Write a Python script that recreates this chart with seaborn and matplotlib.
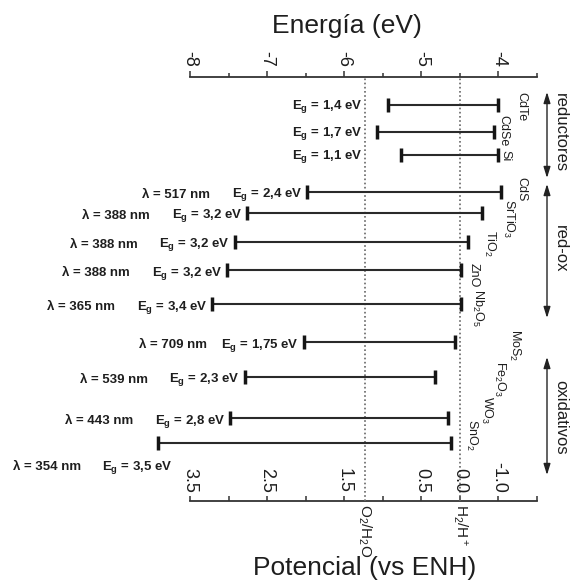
import numpy as np
import pandas as pd
import matplotlib
matplotlib.use("Agg")
import matplotlib.pyplot as plt
import seaborn as sns

# ---------------- data ----------------
materials = ['CdTe', 'CdSe', 'Si', 'CdS', 'SrTiO$_3$', 'TiO$_2$', 'ZnO',
             'Nb$_2$O$_5$', 'MoS$_2$', 'Fe$_2$O$_3$', 'WO$_3$', 'SnO$_2$']
band_valence = [-5.43, -5.57, -5.27, -6.48, -7.26, -7.42, -7.52, -7.71,
                -6.52, -7.29, -7.48, -8.42]          # eV
band_conduction = [-4.00, -4.06, -4.01, -3.97, -4.21, -4.39, -4.49, -4.49,
                   -4.56, -4.82, -4.65, -4.62]       # eV
gap_labels = ['1,4', '1,7', '1,1', '2,4', '3,2', '3,2', '3,2', '3,4',
              '1,75', '2,3', '2,8', '3,5']
wavelengths = [None, None, None, 517, 388, 388, 388, 365, 709, 539, 443, 354]
groups = ['reductores', 'red-ox', 'oxidativos']
energy_ticks = [-8, -7, -6, -5, -4]
energy_tick_labels = ['-8', '-7', '-6', '-5', '-4']
energy_minor_ticks = [-7.5, -6.5, -5.5, -4.5, -3.5]
potential_tick_pos = [-8, -7, -6, -5, -4.5, -4]
potential_tick_labels = ['3.5', '2.5', '1.5', '0.5', '0.0', '-1.0']
redox_levels = [-5.73, -4.5]
redox_labels = ['O$_2$/H$_2$O', 'H$_2$/H$^+$']

# ---------------- layout (pixels) ----------------
W, H = 570, 583
row_y = [105, 132, 155, 192, 213, 242, 270, 304, 342, 377, 418, 443]
mat_label_xy = [(521, 92), (503, 115), (505, 150), (521, 177), (509, 199),
                (490, 230), (474, 263), (478, 289), (515, 329), (500, 361),
                (487, 396), (472, 419)]
group_label_top = [93, 225, 380]
group_arrows = [(92, 178), (184, 318), (357, 475)]

sns.set_theme(style="white")
plt.rcParams['font.family'] = ['Liberation Sans', 'DejaVu Sans']
plt.rcParams['mathtext.fontset'] = 'custom'
plt.rcParams['mathtext.rm'] = 'Liberation Sans'
plt.rcParams['mathtext.it'] = 'Liberation Sans:italic'
plt.rcParams['mathtext.bf'] = 'Liberation Sans:bold'

TXT = '#1e1e1e'
LINE = '#2a2a2a'

fig = plt.figure(figsize=(W / 100, H / 100), dpi=100)
ov = fig.add_axes([0, 0, 1, 1])
ov.set_xlim(0, W)
ov.set_ylim(H, 0)
ov.axis('off')

ax = fig.add_axes([190 / W, 1 - 501 / H, 347 / W, 424 / H])
ax.patch.set_alpha(0)

df = pd.DataFrame({'material': materials, 'VB': band_valence,
                   'CB': band_conduction, 'y': row_y})
long = df.melt(id_vars=['material', 'y'], value_vars=['VB', 'CB'],
               var_name='edge', value_name='E')

sns.lineplot(data=long, x='E', y='y', units='material', estimator=None,
             sort=False, color=LINE, lw=1.5, ax=ax, legend=False, clip_on=False)
sns.scatterplot(data=long, x='E', y='y', marker='|', s=100, linewidth=2.5,
                color='#151515', ax=ax, legend=False, clip_on=False, zorder=3)

ax.set_xlim(-8, -3.5)
ax.set_ylim(501, 77)
ax.set_xlabel('')
ax.set_ylabel('')
ax.set_yticks([])

for s in ['left', 'right', 'bottom']:
    ax.spines[s].set_visible(False)
ax.spines['top'].set_color('#333333')
ax.spines['top'].set_linewidth(1.3)

ax.xaxis.tick_top()
ax.set_xticks(energy_ticks, energy_tick_labels, rotation=-90, fontsize=13,
              color=TXT)
ax.set_xticks(energy_minor_ticks, minor=True)
ax.tick_params(axis='x', which='major', direction='out', length=4.5,
               width=1.1, pad=3, color='#333333', top=True, bottom=False)
ax.tick_params(axis='x', which='minor', direction='out', length=3,
               width=1.1, color='#333333', top=True, bottom=False)

sec = ax.secondary_xaxis('bottom')
sec.set_xticks(np.arange(-8, -3.49, 0.5))
sec.set_xticklabels([])
sec.tick_params(direction='in', length=3.8, width=1.1, color='#333333')
sec.spines['bottom'].set_color('#333333')
sec.spines['bottom'].set_linewidth(1.3)

for pos, lab in zip(potential_tick_pos, potential_tick_labels):
    ax.annotate(lab, xy=(pos, 0), xycoords=('data', 'axes fraction'),
                xytext=(0, 8), textcoords='offset pixels', rotation=-90,
                ha='center', va='bottom', fontsize=13, color=TXT)

for lv, lab in zip(redox_levels, redox_labels):
    ax.axvline(lv, ls=(0, (1, 1.5)), color='#666666', lw=1.2, zorder=1)
    ax.annotate(lab, xy=(lv, 0), xycoords=('data', 'axes fraction'),
                xytext=(0, -3), textcoords='offset pixels', rotation=-90,
                ha='center', va='top', fontsize=11, color=TXT)

# gap / wavelength labels
for i, (vb, y, g, lam) in enumerate(zip(band_valence, row_y, gap_labels,
                                        wavelengths)):
    eg = r'E$_\mathbf{g}$ = ' + g + ' eV'
    if i < 3:
        ov.text(362, y + 2, eg, ha='right', va='center', fontsize=9.5,
                fontweight='bold', color=TXT)
        continue
    if i == len(materials) - 1:
        ov.text(172, y + 24, eg, ha='right', va='center', fontsize=9.5,
                fontweight='bold', color=TXT)
        ov.text(172 - 91, y + 24, u'\u03bb = %d nm' % lam, ha='right',
                va='center', fontsize=9.5, fontweight='bold', color=TXT)
        continue
    ax.annotate(eg, xy=(vb, y), xytext=(-5, -3), textcoords='offset pixels',
                ha='right', va='center', fontsize=9.5, fontweight='bold',
                color=TXT, annotation_clip=False)
    ax.annotate(u'\u03bb = %d nm' % lam, xy=(vb, y), xytext=(-97, -3),
                textcoords='offset pixels', ha='right', va='center',
                fontsize=9.5, fontweight='bold', color=TXT,
                annotation_clip=False)

# material labels
for name, (xc, yt) in zip(materials, mat_label_xy):
    ov.text(xc, yt, name, rotation=-90, ha='center', va='top', fontsize=9,
            color=TXT)

# group arrows and labels
for g, top, (y0, y1) in zip(groups, group_label_top, group_arrows):
    ov.annotate('', xy=(547, y0), xytext=(547, y1),
                arrowprops=dict(arrowstyle='<|-|>,head_length=0.55,head_width=0.17',
                                lw=1.0, color='#222222', shrinkA=0, shrinkB=0))
    ov.text(556, top, g, rotation=-90, rotation_mode='anchor', ha='left',
            va='baseline', fontsize=12, color=TXT)

ov.text(347, 33, 'Energía (eV)', ha='center', va='baseline', fontsize=19,
        color=TXT)
ov.text(365, 575, 'Potencial (vs ENH)', ha='center', va='baseline',
        fontsize=19, color=TXT)

fig.savefig('out.png', dpi=100)
